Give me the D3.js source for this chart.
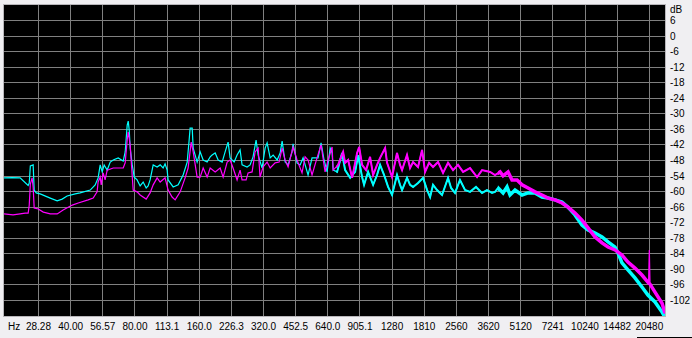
<!DOCTYPE html>
<html>
<head>
<meta charset="utf-8">
<script src="https://cdn.jsdelivr.net/npm/d3@7"></script>
<style>
  body { margin: 0; background: #f0eff2; }
  svg { display: block; }
</style>
</head>
<body>
<script>
const WIDTH = 692;
const HEIGHT = 338;

// axis ticks
const freqTicks = [28.28, 40.00, 56.57, 80.00, 113.1, 160.0, 226.3, 320.0, 452.5, 640.0,
    905.1, 1280, 1810, 2560, 3620, 5120, 7241, 10240, 14482, 20480];
const freqLabels = ["28.28", "40.00", "56.57", "80.00", "113.1", "160.0", "226.3", "320.0", "452.5", "640.0",
    "905.1", "1280", "1810", "2560", "3620", "5120", "7241", "10240", "14482", "20480"];
const dbTicks = [6, 0, -6, -12, -18, -24, -30, -36, -42, -48, -54, -60, -66, -72, -78, -84, -90, -96, -102];

// cyan channel (Hz / dB)
const cyanFreq = [
    19.5, 21.3, 23.2, 25.3, 25.6, 25.9, 26.7, 27.0, 27.6, 28.8,
    32.1, 34.6, 36.5, 38.5, 42.0, 44.3, 49.4, 52.1, 53.8, 55.0,
    56.2, 57.4, 59.3, 61.3, 63.3, 66.8, 70.5, 72.0, 73.6, 74.4,
    75.2, 76.0, 77.7, 79.4, 81.9, 84.6, 87.4, 90.3, 92.2, 94.2,
    97.4, 101.6, 105.0, 108.4, 110.7, 113.2, 114.4, 120.8, 127.5, 134.5,
    140.5, 143.5, 145.0, 148.3, 149.9, 156.4, 161.6, 166.9, 174.2, 180.0,
    183.8, 190.0, 196.2, 204.8, 211.5, 218.4, 223.2, 233.1, 240.6, 248.5,
    253.9, 267.9, 276.8, 285.8, 295.3, 301.9, 315.0, 325.5, 332.5, 343.7,
    354.9, 370.6, 382.7, 391.0, 403.8, 417.0, 435.2, 440.0, 459.3, 474.7,
    490.1, 517.2, 539.8, 576.0, 595.0, 614.5, 634.9, 656.0, 670.1, 677.8,
    707.2, 746.2, 771.2, 814.1, 858.9, 887.0, 925.9, 945.8, 987.5, 1042.7,
    1087.9, 1124.1, 1173.9, 1225.5, 1278.6, 1349.1, 1393.9, 1424.6, 1502.7, 1552.6,
    1603.8, 1692.2, 1786.8, 1866.1, 1927.7, 1989.2, 2077.9, 2191.9, 2338.5, 2416.4,
    2521.3, 2659.8, 2808.3, 2964.5, 3161.6, 3374.1, 3558.4, 3757.6, 3880.6, 4011.0,
    4231.8, 4416.4, 4561.2, 4814.6, 5191.7, 5539.8, 5969.9, 6441.0, 6871.0, 7407.5,
    7986.8, 8522.7, 9188.8, 9905.7, 10577.9, 11407.4, 12298.2, 13117.4, 14151.7, 14612.3,
    15249.5, 16263.3, 17537.7, 18913.5, 20173.4, 21770.2, 23490.6, 24250
];
const cyanDb = [
    -54.7, -54.6, -54.7, -57.6, -56.7, -50.1, -49.7, -59.4, -60.5, -60.9,
    -62.5, -63.6, -62.9, -61.7, -60.9, -60.5, -59.4, -57.4, -54.7, -49.7,
    -52.4, -49.7, -51.7, -48.6, -47.8, -47.0, -48.2, -44.7, -34.3, -32.8,
    -36.2, -43.2, -49.7, -54.4, -55.5, -57.8, -56.3, -58.6, -57.8, -55.5,
    -49.7, -50.5, -49.7, -50.9, -49.3, -51.7, -55.5, -58.2, -57.4, -53.6,
    -48.6, -40.1, -35.5, -35.5, -43.2, -48.6, -44.7, -47.8, -48.6, -46.6,
    -45.9, -45.1, -47.8, -48.6, -44.7, -40.9, -47.0, -48.6, -45.9, -43.9,
    -49.7, -50.5, -49.7, -46.6, -40.1, -45.9, -50.9, -43.2, -41.2, -47.0,
    -45.9, -47.8, -45.1, -40.5, -48.6, -49.7, -44.7, -41.6, -49.0, -49.7,
    -47.0, -53.6, -47.0, -47.0, -41.2, -47.8, -52.4, -43.2, -45.1, -51.7,
    -52.4, -45.1, -51.7, -54.7, -52.4, -45.9, -54.4, -57.4, -52.4, -57.4,
    -53.6, -49.7, -53.6, -58.2, -61.3, -53.6, -57.4, -59.4, -54.7, -57.4,
    -58.2, -56.7, -54.7, -59.4, -62.1, -57.4, -59.4, -61.3, -54.7, -58.6,
    -60.5, -55.5, -59.4, -60.1, -58.2, -60.5, -59.4, -60.5, -60.1, -58.6,
    -60.5, -58.2, -61.3, -59.4, -61.3, -60.5, -60.5, -62.1, -62.5, -63.2,
    -64.0, -66.0, -69.0, -72.9, -74.8, -76.0, -77.5, -79.4, -81.4, -83.7,
    -87.5, -90.2, -93.3, -96.8, -99.9, -102.6, -106.5, -108.5
];

// magenta channel (Hz / dB)
const magentaFreq = [
    19.5, 21.5, 23.2, 24.5, 25.3, 25.6, 25.9, 26.4, 26.7, 27.0,
    28.2, 29.8, 32.1, 34.6, 36.9, 40.7, 43.4, 48.3, 51.0, 53.2,
    53.8, 55.0, 55.6, 56.8, 58.0, 59.3, 63.3, 66.8, 70.5, 72.0,
    73.6, 74.4, 76.0, 76.8, 78.5, 81.9, 84.6, 90.3, 94.2, 97.4,
    101.6, 105.0, 110.7, 114.4, 119.4, 123.4, 130.3, 137.4, 141.9, 146.7,
    149.9, 156.4, 161.6, 166.9, 174.2, 180.0, 190.0, 200.5, 207.0, 216.2,
    223.2, 230.4, 240.6, 248.5, 253.9, 265.2, 270.9, 282.9, 292.2, 301.9,
    308.2, 318.4, 332.5, 343.7, 362.6, 378.6, 391.0, 403.8, 417.0, 440.0,
    459.3, 484.6, 500.9, 517.2, 539.8, 569.7, 595.0, 621.3, 642.1, 670.1,
    677.8, 714.9, 754.6, 771.2, 796.8, 831.4, 877.4, 896.9, 925.9, 966.7,
    1009.2, 1042.7, 1087.9, 1124.1, 1186.6, 1212.0, 1278.6, 1349.1, 1393.9, 1424.6,
    1502.7, 1552.6, 1603.8, 1692.2, 1767.6, 1826.3, 1906.3, 1989.2, 2099.8, 2216.0,
    2338.5, 2468.5, 2604.0, 2749.9, 2964.5, 3197.6, 3374.1, 3679.4, 3880.6, 4098.3,
    4231.8, 4466.8, 4661.2, 4920.1, 5191.7, 5539.8, 5969.9, 6441.0, 6871.0, 7407.5,
    7986.8, 8522.7, 9188.8, 9905.7, 10577.9, 11407.4, 12298.2, 13117.4, 14151.7, 15249.5,
    16263.3, 17537.7, 18913.5, 19971, 20304, 20480, 20635, 21770.2, 23490.6, 24250
];
const magentaDb = [
    -68.6, -69.0, -68.6, -68.3, -68.3, -65.2, -57.1, -54.7, -58.2, -66.3,
    -66.7, -67.9, -68.6, -68.6, -67.1, -65.2, -64.4, -63.2, -62.5, -60.1,
    -56.3, -54.4, -57.4, -52.8, -55.5, -51.7, -50.9, -50.9, -50.9, -48.9,
    -40.1, -37.0, -42.0, -47.8, -59.4, -60.1, -61.3, -62.9, -60.5, -57.4,
    -54.7, -56.3, -54.7, -59.4, -62.1, -63.2, -60.1, -54.7, -50.9, -40.9,
    -44.7, -54.4, -54.4, -50.9, -54.4, -50.9, -52.4, -50.9, -54.4, -48.6,
    -47.8, -50.9, -55.5, -51.7, -55.5, -55.5, -52.8, -52.4, -44.7, -43.2,
    -54.4, -50.5, -48.6, -50.9, -48.9, -48.6, -43.2, -47.8, -50.5, -42.8,
    -47.8, -52.8, -46.6, -47.8, -53.6, -47.0, -42.0, -52.4, -47.8, -42.8,
    -51.7, -49.7, -44.7, -48.9, -47.8, -54.7, -45.1, -42.8, -49.7, -51.7,
    -46.6, -53.6, -49.7, -47.0, -43.2, -48.9, -54.4, -45.1, -49.7, -51.7,
    -45.9, -50.9, -48.6, -50.5, -43.9, -52.4, -48.9, -50.5, -48.6, -52.8,
    -48.9, -51.7, -49.7, -52.4, -50.9, -54.4, -51.7, -52.4, -53.6, -52.4,
    -53.9, -52.4, -55.5, -55.5, -57.4, -58.6, -60.1, -61.3, -62.5, -63.2,
    -64.4, -66.0, -68.3, -71.0, -74.0, -77.5, -79.8, -81.4, -82.5, -84.5,
    -87.2, -89.5, -92.2, -94.5, -95.3, -82.5, -95.7, -98.8, -103.1, -106.9
];

const series = [
    { name: "cyan", color: "#00ffff", freq: cyanFreq, db: cyanDb },
    { name: "magenta", color: "#ff00ff", freq: magentaFreq, db: magentaDb },
];

const plot = { left: 4, right: 665, top: 5, bottom: 316 };

const x = d3.scaleLog().domain([19.5, 24250]).range([plot.left, plot.right]);
const y = d3.scaleLinear().domain([-108, 12]).range([plot.bottom, plot.top]);

const svg = d3.select("body").append("svg")
    .attr("width", WIDTH)
    .attr("height", HEIGHT)
    .attr("viewBox", [0, 0, WIDTH, HEIGHT]);

svg.append("rect")
    .attr("width", WIDTH).attr("height", HEIGHT)
    .attr("fill", "#f0eff2");

// plot frame
svg.append("rect")
    .attr("x", plot.left - 0.5).attr("y", plot.top - 0.5)
    .attr("width", plot.right - plot.left + 1).attr("height", plot.bottom - plot.top + 1)
    .attr("fill", "#000")
    .attr("stroke", "#b8b6ba")
    .attr("shape-rendering", "crispEdges");

const px = v => Math.floor(v) + 0.5;

const grid = svg.append("g")
    .attr("stroke", "#808080")
    .attr("stroke-width", 1)
    .attr("shape-rendering", "crispEdges");

grid.selectAll("line.v")
    .data(freqTicks)
    .join("line")
        .attr("class", "v")
        .attr("x1", d => px(x(d))).attr("x2", d => px(x(d)))
        .attr("y1", plot.top).attr("y2", plot.bottom);

grid.selectAll("line.h")
    .data(dbTicks)
    .join("line")
        .attr("class", "h")
        .attr("x1", plot.left).attr("x2", plot.right)
        .attr("y1", d => px(y(d))).attr("y2", d => px(y(d)));

// clip regions: high frequencies are drawn as a thicker band
const defs = svg.append("defs");
const clips = [
    { id: "clip-all", x0: plot.left, x1: plot.right, width: 1.2, thick: false },
    { id: "clip-mid", x0: x(700), x1: plot.right, width: 2, thick: true },
    { id: "clip-hi", x0: x(4000), x1: plot.right, width: 3.5, thick: true },
];
clips.forEach(c => {
    defs.append("clipPath").attr("id", c.id)
        .append("rect")
        .attr("x", c.x0).attr("y", plot.top)
        .attr("width", c.x1 - c.x0).attr("height", plot.bottom - plot.top);
});

const line = d3.line()
    .x(d => x(d[0]))
    .y(d => y(Math.max(-108.5, d[1])));

// a lone sample far above both neighbours is a spike: keep it thin
function isSpike(pts, i) {
    if (i === 0 || i === pts.length - 1) return false;
    return pts[i][1] - pts[i - 1][1] > 8 && pts[i][1] - pts[i + 1][1] > 8;
}

series.forEach(s => {
    const pts = s.freq.map((f, i) => [f, s.db[i]]);
    const smooth = pts.filter((p, i) => !isSpike(pts, i));
    const g = svg.append("g").attr("fill", "none").attr("stroke", s.color);
    clips.forEach(c => {
        g.append("path")
            .attr("clip-path", `url(#${c.id})`)
            .attr("stroke-width", c.width)
            .attr("stroke-linejoin", "miter")
            .attr("d", line(c.thick ? smooth : pts));
    });
});

// labels
const labels = svg.append("g")
    .attr("font-family", "Liberation Sans, Arial, sans-serif")
    .attr("font-size", 10)
    .attr("fill", "#000");

labels.selectAll("text.x")
    .data(freqTicks)
    .join("text")
        .attr("class", "x")
        .attr("x", d => x(d))
        .attr("y", 330)
        .attr("text-anchor", "middle")
        .text((d, i) => freqLabels[i]);

labels.append("text")
    .attr("x", 8).attr("y", 330)
    .text("Hz");

labels.selectAll("text.y")
    .data(dbTicks)
    .join("text")
        .attr("class", "y")
        .attr("x", 670)
        .attr("y", d => y(d))
        .attr("dy", "0.35em")
        .text(d => d);

labels.append("text")
    .attr("x", 670).attr("y", 13)
    .text("dB");

// small dark rule at the lower right corner of the window
svg.append("line")
    .attr("x1", 637).attr("x2", WIDTH)
    .attr("y1", 337.5).attr("y2", 337.5)
    .attr("stroke", "#000");
</script>
</body>
</html>
